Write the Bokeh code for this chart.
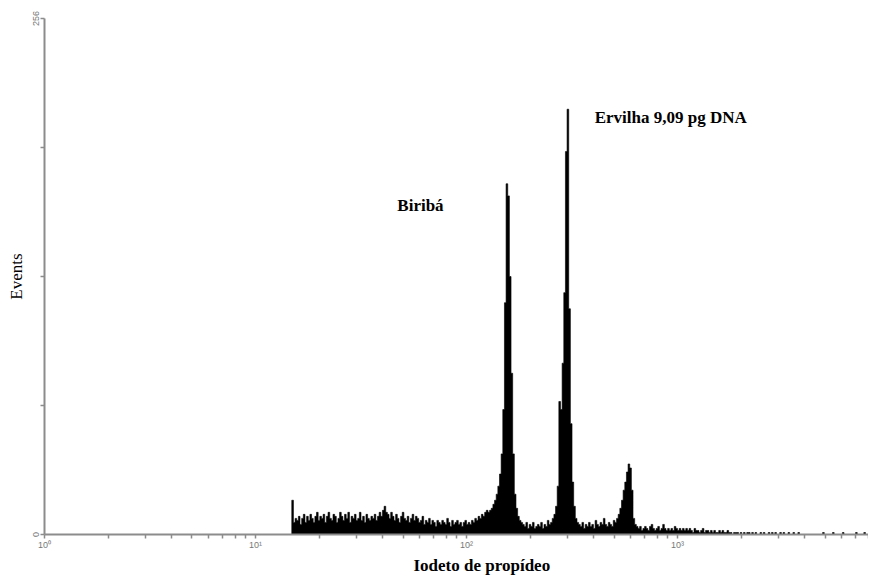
import numpy as np
from bokeh.plotting import figure
from bokeh.models import Range1d, FixedTicker, Label, Title
from bokeh.embed import file_html
from bokeh.resources import INLINE

# ---- data ----
# histogram: 128 channels per decade of fluorescence, first channel index below
first_channel = 150
events = [
    17, 6, 8, 7, 9, 5, 8, 10, 6, 9,
    7, 10, 8, 6, 9, 11, 7, 9, 8, 10,
    6, 9, 11, 8, 7, 10, 9, 6, 8, 11,
    9, 7, 10, 8, 11, 6, 9, 8, 10, 7,
    8, 11, 7, 9, 6, 10, 8, 7, 9, 8,
    10, 7, 9, 11, 9, 12, 14, 11, 10, 8,
    11, 9, 7, 10, 8, 6, 9, 11, 8, 7,
    9, 6, 8, 10, 7, 9, 8, 6, 7, 9,
    5, 7, 6, 8, 5, 7, 6, 4, 7, 6,
    5, 7, 6, 5, 8, 6, 4, 7, 5, 6,
    7, 5, 6, 4, 6, 7, 5, 6, 5, 7,
    6, 8, 7, 9, 8, 10, 9, 11, 12, 11,
    12, 13, 15, 17, 20, 24, 30, 40, 62, 115,
    174, 168, 128, 80, 40, 20, 13, 9, 7, 6,
    5, 4, 6, 3, 5, 4, 6, 3, 4, 5,
    4, 6, 3, 5, 4, 7, 5, 6, 8, 10,
    14, 24, 66, 62, 85, 120, 190, 211, 112, 55,
    26, 14, 8, 6, 5, 4, 6, 3, 5, 4,
    6, 4, 5, 3, 7, 5, 4, 6, 5, 8,
    5, 4, 6, 5, 4, 7, 6, 8, 10, 13,
    17, 22, 26, 31, 35, 33, 22, 8, 5, 4,
    3, 4, 2, 3, 4, 3, 2, 4, 5, 3,
    2, 3, 4, 2, 3, 5, 3, 2, 3, 2,
    3, 2, 4, 3, 2, 3, 2, 3, 2, 3,
    2, 3, 2, 1, 3, 2, 2, 1, 2, 3,
    1, 2, 2, 1, 2, 1, 2, 1, 1, 2,
    1, 2, 1, 1, 2, 1, 1, 0, 1, 1,
    1, 0, 1, 0, 1, 0, 1, 1, 0, 1,
    0, 1, 0, 0, 1, 0, 1, 0, 0, 1,
    0, 1, 0, 1, 0, 0, 1, 0, 1, 0,
    0, 1, 0, 0, 1, 0, 0, 1, 0, 0,
    0, 0, 0, 0, 0, 0, 0, 0, 0, 0,
    0, 0, 1, 0, 0, 0, 0, 0, 1, 0,
    0, 0, 0, 0, 1, 0, 0, 0, 0, 0,
    0, 0, 1, 0, 0, 0, 0, 1, 0, 0,
]
channels_per_decade = 128

x_major_ticks = [1, 10, 100, 1000]
x_tick_labels = ["10\u2070", "10\u00b9", "10\u00b2", "10\u00b3"]
y_major_ticks = [0, 256]
y_tick_labels = ["0", "256"]
y_minor_ticks = [64, 128, 192]

x_title = "Iodeto de propídeo"
y_title = "Events"

peak_labels = ["Biribá", "Ervilha 9,09 pg DNA"]
peak_label_x = [47, 405]
peak_label_y = [163, 207]

# ---- build step outline of histogram ----
counts = np.array(events, dtype=float)
ch = np.arange(first_channel, first_channel + len(counts) + 1)
edges = 10 ** (ch / channels_per_decade)
xs = [edges[0]]
ys = [0.0]
for i, c in enumerate(counts):
    xs += [edges[i], edges[i + 1]]
    ys += [c, c]
xs.append(edges[-1])
ys.append(0.0)

p = figure(width=868, height=575, x_axis_type="log",
           x_range=Range1d(1, 10 ** 3.905), y_range=Range1d(0, 256),
           output_backend="svg", toolbar_location=None,
           min_border_left=44, min_border_top=18, min_border_right=0,
           min_border_bottom=0)
p.outline_line_color = None
p.grid.visible = False
p.background_fill_color = "white"

p.patch(xs, ys, fill_color="black", line_color="black", line_width=0.6)

axis_grey = "#8c8c8c"
# x axis
minor = [m * 10 ** k for k in range(0, 4) for m in range(2, 10)]
p.xaxis.ticker = FixedTicker(ticks=x_major_ticks, minor_ticks=minor)
p.xaxis.major_label_overrides = dict(zip(x_major_ticks, x_tick_labels))
p.xaxis.axis_line_color = axis_grey
p.xaxis.axis_line_width = 2
p.xaxis.major_tick_line_color = axis_grey
p.xaxis.minor_tick_line_color = axis_grey
p.xaxis.major_tick_line_width = 1.5
p.xaxis.minor_tick_line_width = 1.5
p.xaxis.major_tick_in = 0
p.xaxis.major_tick_out = 4
p.xaxis.minor_tick_in = 0
p.xaxis.minor_tick_out = 4
p.xaxis.major_label_standoff = 1
p.xaxis.major_label_text_font = "Liberation Sans"
p.xaxis.major_label_text_font_size = "9px"
p.xaxis.major_label_text_color = "#777777"

# x-axis title below the axis, right of centre as in the original
p.add_layout(Title(text=x_title, align="left", offset=369, standoff=2,
                   text_font="Liberation Serif", text_font_style="bold",
                   text_font_size="17px", text_color="black"), "below")

# y axis
p.yaxis.ticker = FixedTicker(ticks=y_major_ticks, minor_ticks=y_minor_ticks)
p.yaxis.major_label_overrides = dict(zip(y_major_ticks, y_tick_labels))
p.yaxis.major_label_orientation = "vertical"
p.yaxis.axis_line_color = axis_grey
p.yaxis.axis_line_width = 2
p.yaxis.major_tick_line_color = axis_grey
p.yaxis.minor_tick_line_color = axis_grey
p.yaxis.major_tick_line_width = 1.5
p.yaxis.minor_tick_line_width = 1.5
p.yaxis.major_tick_in = 0
p.yaxis.major_tick_out = 4
p.yaxis.minor_tick_in = 0
p.yaxis.minor_tick_out = 4
p.yaxis.major_label_standoff = 2
p.yaxis.major_label_text_font = "Liberation Sans"
p.yaxis.major_label_text_font_size = "9px"
p.yaxis.major_label_text_color = "#777777"
p.yaxis.axis_label = y_title
p.yaxis.axis_label_text_font = "Liberation Serif"
p.yaxis.axis_label_text_font_style = "normal"
p.yaxis.axis_label_text_font_size = "17px"
p.yaxis.axis_label_text_color = "black"
p.yaxis.axis_label_standoff = 4

for txt, lx, ly in zip(peak_labels, peak_label_x, peak_label_y):
    p.add_layout(Label(x=lx, y=ly, text=txt, text_font="Liberation Serif",
                       text_font_style="bold", text_font_size="17px",
                       text_color="black", text_baseline="middle",
                       text_align="left"))

open("out.html", "w").write(file_html(p, INLINE))
